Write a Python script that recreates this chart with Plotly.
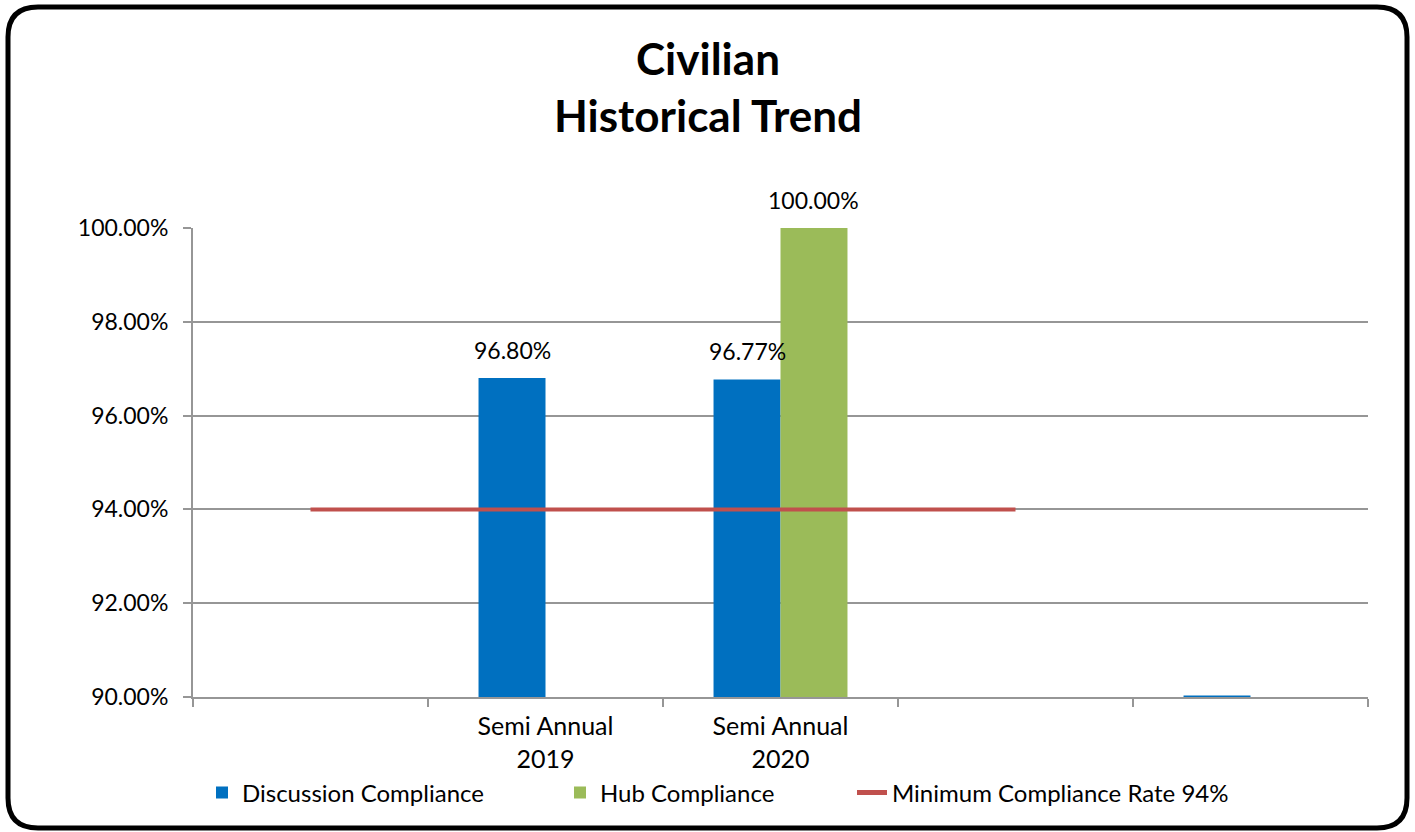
import plotly.graph_objects as go

categories = ["\u200b", "Semi Annual<br>2019", "Semi Annual<br>2020", "\u200b\u200b", "\u200b\u200b\u200b"]
discussion = [None, 96.80, 96.77, None, 90.03]
discussion_labels = ["", "96.80%", "96.77%", "", ""]
hub = [None, None, 100.00, None, None]
hub_labels = ["", "", "100.00%", "", ""]
minimum = [94, 94, 94, 94, None]

FONT = "Lato"
W, H = 1415, 832
L, R, T, B = 193, 47, 228, 135
PW, PH = W - L - R, H - T - B
BARGAP = 0.43
GRID = "#969696"

def px(x):
    return (x - L) / PW

def py(y):
    return (H - B - y) / PH

fig = go.Figure()
fig.add_trace(go.Bar(x=categories, y=discussion, name="Discussion Compliance",
                     marker=dict(color="#0070C0", line=dict(width=0)), legend="legend"))
fig.add_trace(go.Bar(x=categories, y=hub, name="Hub Compliance",
                     marker=dict(color="#9BBB59", line=dict(width=0)), legend="legend2"))
fig.add_trace(go.Scatter(x=categories, y=minimum, name="Minimum Compliance Rate 94%",
                         mode="lines", line=dict(color="#C0504D", width=4),
                         connectgaps=False, legend="legend3"))

# data labels above the bars
bar_w = PW / len(categories) * (1 - BARGAP) / 2
for labels, vals, sh in [(discussion_labels, discussion, -bar_w / 2), (hub_labels, hub, bar_w / 2)]:
    for c, v, t in zip(categories, vals, labels):
        if t:
            fig.add_annotation(x=c, y=v, text=t, showarrow=False, xref="x", yref="y",
                               yanchor="bottom", yshift=12, xshift=sh,
                               font=dict(size=23, family=FONT, color="black"))

# title (centred on the whole chart)
fig.add_annotation(text="<b>Civilian</b>", x=px(W / 2), xref="paper", y=py(58), yref="paper",
                   xanchor="center", yanchor="middle", showarrow=False,
                   font=dict(size=44, family=FONT, color="black"))
fig.add_annotation(text="<b>Historical Trend</b>", x=px(W / 2), xref="paper", y=py(115), yref="paper",
                   xanchor="center", yanchor="middle", showarrow=False,
                   font=dict(size=44, family=FONT, color="black"))

# rounded border
x0, x1, y0, y1 = px(8), px(1407), py(828), py(7)
rx, ry = 30 / PW, 30 / PH
path = (f"M {x0+rx},{y1} L {x1-rx},{y1} Q {x1},{y1} {x1},{y1-ry} "
        f"L {x1},{y0+ry} Q {x1},{y0} {x1-rx},{y0} L {x0+rx},{y0} "
        f"Q {x0},{y0} {x0},{y0+ry} L {x0},{y1-ry} Q {x0},{y1} {x0+rx},{y1} Z")
fig.add_shape(type="path", path=path, xref="paper", yref="paper",
              line=dict(color="black", width=5), layer="above")

legend_common = dict(orientation="h", xanchor="left", y=py(793), yanchor="middle",
                     font=dict(size=24, family=FONT, color="black"),
                     bgcolor="rgba(0,0,0,0)", itemsizing="constant")

fig.update_layout(
    width=W, height=H,
    margin=dict(l=L, r=R, t=T, b=B, autoexpand=False),
    paper_bgcolor="white", plot_bgcolor="white",
    barmode="group", bargap=BARGAP, bargroupgap=0,
    font=dict(family=FONT, size=23, color="black"),
    showlegend=True,
    legend=dict(x=px(202), **legend_common),
    legend2=dict(x=px(560), **legend_common),
    legend3=dict(x=px(852), **legend_common),
    xaxis=dict(type="category", tickson="boundaries", ticks="outside", ticklen=8,
               tickcolor=GRID, tickwidth=2, showline=True, linecolor=GRID,
               linewidth=2, showgrid=False, ticklabelstandoff=6,
               tickfont=dict(size=25, family=FONT)),
    yaxis=dict(range=[90, 100], dtick=2, tickformat=".2f", ticksuffix="%",
               ticks="outside", ticklen=8, tickcolor=GRID, tickwidth=2,
               showline=True, linecolor=GRID, linewidth=2, ticklabelstandoff=10,
               showgrid=True, gridcolor=GRID, gridwidth=2,
               zeroline=False, tickfont=dict(size=23, family=FONT)),
)

fig.write_html("out.html", config={"displayModeBar": False},
               post_script="document.body.style.margin='0';document.body.style.overflow='hidden';")
